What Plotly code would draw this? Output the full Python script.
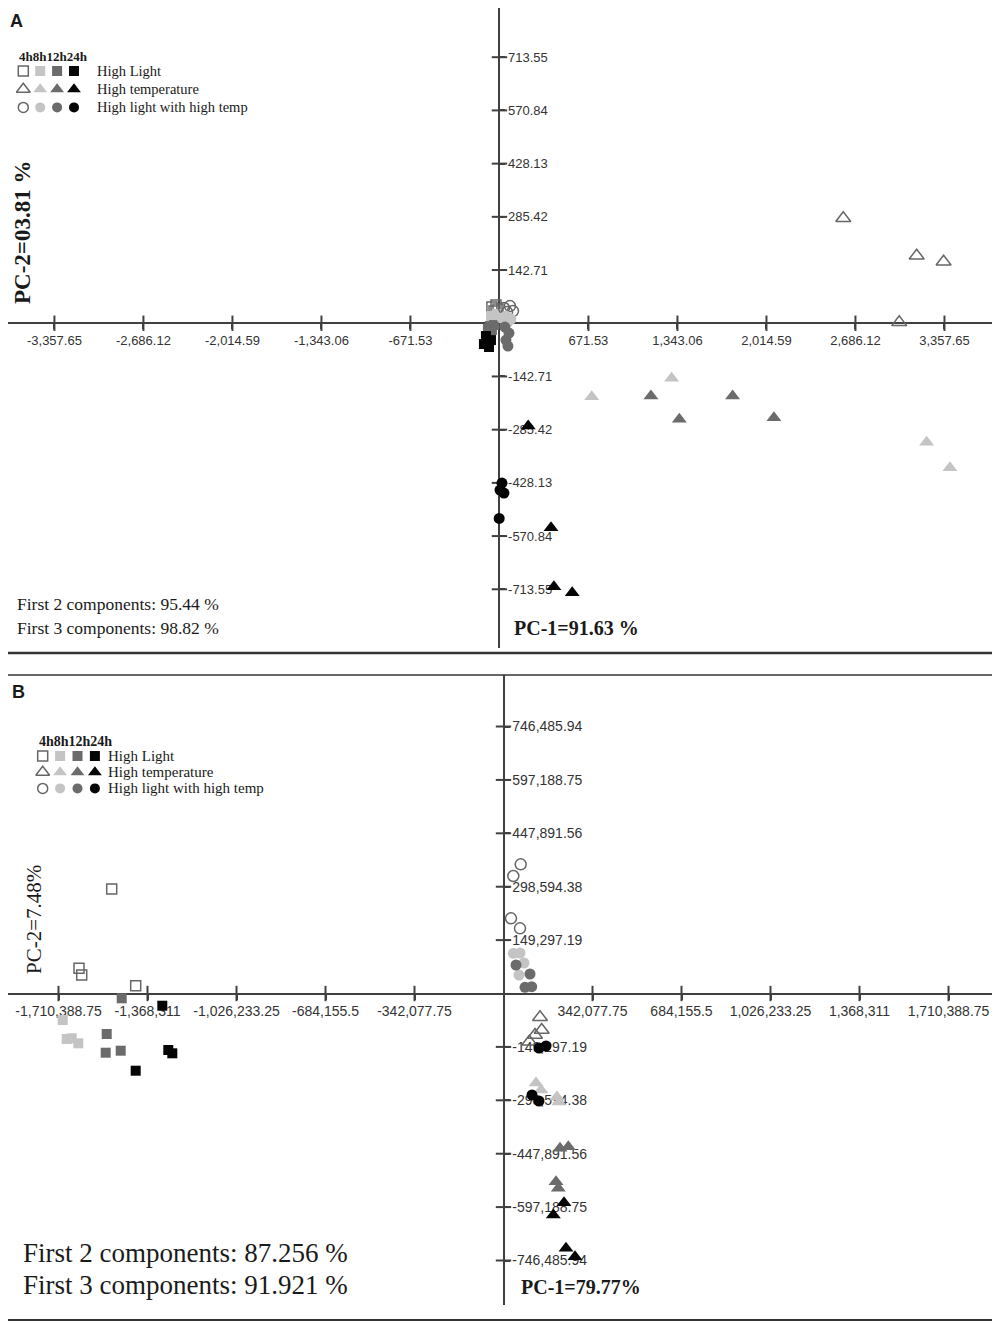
"""PCA score plots (panels A and B): PC-1 vs PC-2 for three stress treatments over time."""

import plotly.graph_objects as go

W, H = 1000, 1324
OFF = 8  # the page body adds an 8px margin, so the figure is drawn that much smaller
FW, FH = W - OFF, H - OFF

TIMES = ["4h", "8h", "12h", "24h"]
TREATMENTS = ["High Light", "High temperature", "High light with high temp"]

# Panel A scores, one inner list per time point (4 replicates each)
A_HL_PC1 = [[-57, -26, -41, -11], [-64, -34, -49, -19], [-72, -41, -87, -57], [-102, -64, -117, -79]]
A_HL_PC2 = [[43.5, 48.8, 32.7, 38.1], [19.3, 13.9, 8.6, 24.7], [-7.5, -4.8, -15.6, -18.2], [-34.3, -45.1, -55.8, -63.8]]
A_HT_PC1 = [[2594, 3148, 3351, 3016], [1299, 696, 3223, 3399], [1143, 1357, 1759, 2071], [217, 389, 411, 549]]
A_HT_PC2 = [[281.4, 181.1, 165.0, 2.4], [-147.8, -197.2, -319.5, -387.6], [-195.3, -257.8, -195.3, -253.5], [-275.8, -548.6, -706.8, -722.9]]
A_HLHT_PC1 = [[34, 79, 102, 57], [19, 49, 87, 64], [41, 72, 49, 64], [19, 4, 34, -2]]
A_HLHT_PC2 = [[40.8, 46.1, 32.7, 30.0], [13.9, 19.3, 11.3, 3.2], [-10.2, -26.3, -45.1, -61.2], [-428.7, -447.4, -455.5, -523.4]]

# Panel B scores
B_HL_PC1 = [[-1505900, -1631600, -1621200, -1413700], [-1694300, -1678900, -1659700, -1634300],
            [-1467500, -1525100, -1529000, -1471300], [-1311400, -1288400, -1273000, -1413700]]
B_HL_PC2 = [[292160, 70450, 51720, 21810], [-74090, -127210, -125250, -139230],
            [-13420, -113230, -165510, -159920], [-34110, -157960, -167190, -215840]]
B_HT_PC1 = [[140290, 146830, 121070, 99170], [124920, 144140, 205630, 213320],
            [217160, 249070, 201790, 210630], [232540, 191410, 240230, 274820]]
B_HT_PC2 = [[-66540, -102050, -116030, -134760], [-250220, -269800, -289370, -303340],
            [-432790, -428320, -526170, -544620], [-584880, -619270, -712370, -735860]]
B_HLHT_PC1 = [[66110, 37670, 28830, 63420], [37670, 63420, 78790, 59580],
              [48050, 101860, 82640, 108390], [136450, 163350, 109540, 136450]]
B_HLHT_PC2 = [[361220, 328510, 210240, 182290], [112390, 113230, 85270, 51720],
              [79680, 54520, 17330, 19010], [-152370, -146780, -283770, -300550]]

A_X_TICKS = ["-3,357.65", "-2,686.12", "-2,014.59", "-1,343.06", "-671.53",
             "671.53", "1,343.06", "2,014.59", "2,686.12", "3,357.65"]
A_Y_TICKS = ["-713.55", "-570.84", "-428.13", "-285.42", "-142.71",
             "142.71", "285.42", "428.13", "570.84", "713.55"]
B_X_TICKS = ["-1,710,388.75", "-1,368,311", "-1,026,233.25", "-684,155.5", "-342,077.75",
             "342,077.75", "684,155.5", "1,026,233.25", "1,368,311", "1,710,388.75"]
B_Y_TICKS = ["-746,485.94", "-597,188.75", "-447,891.56", "-298,594.38", "-149,297.19",
             "149,297.19", "298,594.38", "447,891.56", "597,188.75", "746,485.94"]

A_PC1_LABEL = "PC-1=91.63 %"
A_PC2_LABEL = "PC-2=03.81 %"
A_CUMULATIVE = ["First 2 components: 95.44 %", "First 3 components: 98.82 %"]
B_PC1_LABEL = "PC-1=79.77%"
B_PC2_LABEL = "PC-2=7.48%"
B_CUMULATIVE = ["First 2 components: 87.256 %", "First 3 components: 91.921 %"]

SYMBOLS = ["square", "triangle-up", "circle"]
FILLS = [None, "#c4c4c4", "#6b6b6b", "#050505"]
OPEN_EDGE = "#666666"
AXIS = "#404040"
TEXT = "#1a1a1a"
SERIF = "Liberation Serif, Times New Roman, serif"
SANS = "Liberation Sans, Arial, sans-serif"


def fx(px):
    return (px - OFF) / FW


def fy(py):
    return 1 - (py - OFF) / FH


def num(label):
    return float(label.replace(",", ""))


def marker(ti, tr, sizes):
    if ti == 0:
        return dict(symbol=SYMBOLS[tr] + "-open", size=sizes[tr], color=OPEN_EDGE,
                    line=dict(width=1.5, color=OPEN_EDGE))
    return dict(symbol=SYMBOLS[tr], size=sizes[tr], color=FILLS[ti], line=dict(width=0))


def add_panel(fig, n, pc1, pc2, xticks, yticks, box, xr, yr, tick_size, sizes):
    """Scatter of scores with axes crossing at the origin. box = (left, top, right, bottom) px."""
    xa, ya = f"x{n}" if n > 1 else "x", f"y{n}" if n > 1 else "y"
    left, top, right, bottom = box
    xdom, ydom = [fx(left), fx(right)], [fy(bottom), fy(top)]
    xpos = xdom[0] + (0 - xr[0]) / (xr[1] - xr[0]) * (xdom[1] - xdom[0])
    ypos = ydom[0] + (0 - yr[0]) / (yr[1] - yr[0]) * (ydom[1] - ydom[0])

    xv, yv = [num(t) for t in xticks], [num(t) for t in yticks]
    # tick marks crossing the axis lines
    fig.add_trace(go.Scatter(x=xv, y=[0] * len(xv), xaxis=xa, yaxis=ya, mode="markers",
                             marker=dict(symbol="line-ns", size=11, line=dict(width=2, color=AXIS))))
    fig.add_trace(go.Scatter(x=[0] * len(yv), y=yv, xaxis=xa, yaxis=ya, mode="markers",
                             marker=dict(symbol="line-ew", size=11, line=dict(width=2, color=AXIS))))

    for tr in range(len(TREATMENTS)):
        for ti in range(len(TIMES)):
            fig.add_trace(go.Scatter(
                x=pc1[tr][ti], y=pc2[tr][ti], xaxis=xa, yaxis=ya, mode="markers", cliponaxis=False,
                name=f"{TREATMENTS[tr]} {TIMES[ti]}", marker=marker(ti, tr, sizes)))

    common = dict(showgrid=False, zeroline=False, showline=True, linecolor=AXIS, linewidth=2,
                  ticks="outside", ticklen=5, tickwidth=2, tickcolor=AXIS, anchor="free",
                  layer="below traces", automargin=False,
                  tickfont=dict(family=SANS, size=tick_size, color="#333333"))
    key = "" if n == 1 else str(n)
    fig.update_layout(**{
        f"xaxis{key}": dict(domain=xdom, range=xr, position=ypos, tickvals=xv, ticktext=xticks, **common),
        f"yaxis{key}": dict(domain=ydom, range=yr, position=xpos, side="right",
                            tickvals=yv, ticktext=yticks, **common),
    })


def add_key(fig, n, x0, dx, y0, dy, gap, font_size, head_size, sizes):
    """Grid legend: columns are time points, rows are treatments."""
    xa, ya = f"x{n}", f"y{n}"
    fig.update_layout(**{
        f"xaxis{n}": dict(domain=[fx(x0 - 12), fx(x0 + 230)], range=[-12 / dx, 230 / dx],
                          visible=False, anchor=ya),
        f"yaxis{n}": dict(domain=[fy(y0 + 50), fy(y0 - 30)], range=[-50 / dy, 30 / dy],
                          visible=False, anchor=xa),
    })
    for tr in range(len(TREATMENTS)):
        for ti in range(len(TIMES)):
            fig.add_trace(go.Scatter(x=[ti], y=[-tr], xaxis=xa, yaxis=ya, mode="markers",
                                     cliponaxis=False, marker=marker(ti, tr, sizes)))
        fig.add_annotation(x=len(TIMES) - 1 + gap / dx, y=-tr, xref=xa, yref=ya, text=TREATMENTS[tr],
                           showarrow=False, xanchor="left", yanchor="middle",
                           font=dict(family=SERIF, size=font_size, color=TEXT))
    fig.add_annotation(x=-6 / dx, y=14.5 / dy, xref=xa, yref=ya, text="<b>" + "".join(TIMES) + "</b>",
                       showarrow=False, xanchor="left", yanchor="middle",
                       font=dict(family=SERIF, size=head_size, color=TEXT))


def note(fig, text, x, y, size, bold=False, angle=0, anchor="left", family=SERIF):
    fig.add_annotation(x=fx(x), y=fy(y), xref="paper", yref="paper", showarrow=False,
                       text=f"<b>{text}</b>" if bold else text, textangle=angle,
                       xanchor=anchor, yanchor="middle",
                       font=dict(family=family, size=size, color=TEXT))


fig = go.Figure()

add_panel(fig, 1, [A_HL_PC1, A_HT_PC1, A_HLHT_PC1], [A_HL_PC2, A_HT_PC2, A_HLHT_PC2],
          A_X_TICKS, A_Y_TICKS, (8, 8, 997, 648), [-3708, 3754], [-871, 845.5], 13, [10, 13, 11])
add_panel(fig, 2, [B_HL_PC1, B_HT_PC1, B_HLHT_PC1], [B_HL_PC2, B_HT_PC2, B_HLHT_PC2],
          B_X_TICKS, B_Y_TICKS, (8, 675, 997, 1305), [-1904500, 1896800], [-870900, 890500], 14,
          [10, 13, 11])
add_key(fig, 3, 23.3, 16.9, 71, 18.2, 21, 14.5, 13, [10, 12, 10])
add_key(fig, 4, 42.7, 17.4, 756, 16.2, 11, 15, 14, [10, 12, 10])

# panel frames
for y, w in [(653, 2.5), (675, 1.5), (1320, 2)]:
    fig.add_shape(type="line", xref="paper", yref="paper", x0=fx(3), x1=fx(997), y0=fy(y), y1=fy(y),
                  line=dict(color="#333333", width=w))

note(fig, "A", 8, 21, 18, bold=True, family=SANS)
note(fig, "B", 10, 692, 18, bold=True, family=SANS)

note(fig, A_PC2_LABEL, 22, 233, 23, bold=True, angle=-90, anchor="center")
note(fig, A_PC1_LABEL, 512, 628, 20, bold=True)
note(fig, A_CUMULATIVE[0], 15, 604, 17.5)
note(fig, A_CUMULATIVE[1], 15, 628, 17.5)

note(fig, B_PC2_LABEL, 34, 920, 21, angle=-90, anchor="center")
note(fig, B_PC1_LABEL, 519, 1287, 20, bold=True)
note(fig, B_CUMULATIVE[0], 21, 1253, 27)
note(fig, B_CUMULATIVE[1], 21, 1285, 27)

fig.update_layout(width=FW, height=FH, margin=dict(l=0, r=0, t=0, b=0),
                  plot_bgcolor="white", paper_bgcolor="white",
                  showlegend=False, hovermode=False)

fig.write_html("out.html")
